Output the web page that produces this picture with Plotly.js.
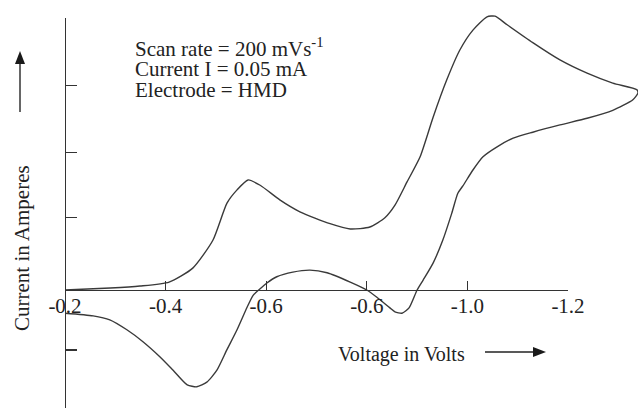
<!DOCTYPE html>
<html>
<head>
<meta charset="utf-8">
<script src="https://cdn.plot.ly/plotly-3.0.1.min.js"></script>
<style>html,body{margin:0;padding:0;background:#fff;}#chart{width:638px;height:408px;}</style>
</head>
<body>
<div id="chart"></div>
<script>
// Potential magnitude (V) and current (arbitrary units)
const forwardV = [0.200,0.290,0.349,0.407,0.454,0.494,0.522,0.542,0.564,0.588,0.627,0.667,0.727,0.767,0.806,0.836,0.856,0.880,0.906,0.932,0.959,0.985,1.011,1.039,1.055,1.079,1.130,1.184,1.238,1.289,1.337];
const forwardI = [0.00,0.03,0.06,0.12,0.33,0.75,1.31,1.51,1.66,1.58,1.36,1.18,1.00,0.92,0.95,1.09,1.28,1.63,2.01,2.61,3.17,3.62,3.92,4.12,4.13,4.00,3.73,3.47,3.27,3.12,3.02];
const reverseV = [1.339,1.329,1.289,1.238,1.184,1.130,1.091,1.059,1.031,1.011,0.991,0.981,0.969,0.951,0.932,0.912,0.900,0.884,0.870,0.856,0.846,0.820,0.800,0.767,0.721,0.687,0.653,0.621,0.602,0.588,0.574,0.562,0.542,0.522,0.502,0.482,0.462,0.443,0.415,0.389,0.355,0.323,0.289,0.256,0.200];
const reverseI = [2.97,2.87,2.71,2.59,2.49,2.38,2.29,2.16,2.01,1.81,1.57,1.46,1.16,0.75,0.41,0.15,0.00,-0.27,-0.35,-0.33,-0.27,-0.11,0.00,0.12,0.26,0.30,0.27,0.20,0.11,0.02,-0.08,-0.26,-0.60,-0.90,-1.21,-1.39,-1.46,-1.43,-1.21,-1.01,-0.78,-0.60,-0.45,-0.39,-0.35];
const xTickVals = [0.2,0.4,0.6,0.8,1.0,1.2];
const xTickText = ['-0.2','-0.4','-0.6','-0.6','-1.0','-1.2'];
const yTickVals = [4.09,3.08,2.08,1.09,-0.905];

const cvV = forwardV.concat(reverseV);
const cvI = forwardI.concat(reverseI);

// pixel -> paper helpers for layout placement
const L = 65, T = 10, W = 573, H = 398;
const fx = p => (p - L) / W;
const fy = p => (T + H - p) / H;
const yPerPx = 1 / 66.3;
const yAt = p => (290 - p) * yPerPx;

const serif = 'Liberation Serif, Times New Roman, serif';

const traces = [
  {x: cvV, y: cvI, type: 'scatter', mode: 'lines', xaxis: 'x', yaxis: 'y',
   line: {color: '#3a3a3a', width: 1.4, shape: 'spline', smoothing: 0.6},
   hoverinfo: 'skip', showlegend: false},
  {x: [], y: [], type: 'scatter', mode: 'lines', xaxis: 'x2', yaxis: 'y',
   hoverinfo: 'skip', showlegend: false},
  {x: [], y: [], type: 'scatter', mode: 'lines', xaxis: 'x', yaxis: 'y2',
   hoverinfo: 'skip', showlegend: false}
];

function tri(pts) {
  return 'M ' + pts.map(p => fx(p[0]) + ' ' + fy(p[1])).join(' L ') + ' Z';
}

const layout = {
  width: 638, height: 408,
  margin: {l: L, r: 0, t: T, b: 0, pad: 0},
  paper_bgcolor: '#ffffff', plot_bgcolor: 'rgba(0,0,0,0)',
  showlegend: false,
  font: {family: serif, color: '#222'},
  xaxis: {domain: [0, 1], range: [0.2, 0.2 + 573/503], visible: false, fixedrange: true},
  xaxis2: {domain: [0, fx(568)], range: [0.2, 1.2], anchor: 'free', position: fy(290),
           showline: true, linecolor: '#333', linewidth: 1.3,
           ticks: 'inside', ticklen: 9, tickwidth: 1.2, tickcolor: '#333',
           tickmode: 'array', tickvals: xTickVals, ticktext: xTickText, ticklabelstandoff: -4,
           tickfont: {family: serif, size: 21, color: '#222'},
           showgrid: false, zeroline: false, fixedrange: true},
  yaxis: {domain: [0, 1], range: [yAt(408), yAt(T)], anchor: 'x', visible: false,
          showgrid: false, zeroline: false, fixedrange: true},
  yaxis2: {domain: [0, fy(18)], range: [yAt(408), yAt(18)], anchor: 'free', position: 0,
          showline: true, linecolor: '#333', linewidth: 1.3,
          ticks: 'inside', ticklen: 11, tickwidth: 1.2, tickcolor: '#333',
          tickmode: 'array', tickvals: yTickVals, showticklabels: false,
          showgrid: false, zeroline: false, fixedrange: true},
  shapes: [
    {type: 'line', xref: 'paper', yref: 'paper', x0: fx(20), x1: fx(20), y0: fy(112), y1: fy(62),
     line: {color: '#666', width: 2}},
    {type: 'path', xref: 'paper', yref: 'paper', path: tri([[20, 51], [15, 64], [25, 64]]),
     fillcolor: '#1a1a1a', line: {width: 0}},
    {type: 'line', xref: 'paper', yref: 'paper', x0: fx(485), x1: fx(534), y0: fy(352), y1: fy(352),
     line: {color: '#222', width: 1.5}},
    {type: 'path', xref: 'paper', yref: 'paper', path: tri([[546, 352], [533, 347], [533, 357]]),
     fillcolor: '#1a1a1a', line: {width: 0}}
  ],
  annotations: [
    {xref: 'paper', yref: 'paper', x: fx(133), y: fy(48), xanchor: 'left', yanchor: 'middle',
     text: 'Scan rate = 200 mVs<sup>-1</sup>', showarrow: false, font: {family: serif, size: 21, color: '#222'}},
    {xref: 'paper', yref: 'paper', x: fx(133), y: fy(69), xanchor: 'left', yanchor: 'middle',
     text: 'Current I = 0.05 mA', showarrow: false, font: {family: serif, size: 21, color: '#222'}},
    {xref: 'paper', yref: 'paper', x: fx(133), y: fy(90), xanchor: 'left', yanchor: 'middle',
     text: 'Electrode = HMD', showarrow: false, font: {family: serif, size: 21, color: '#222'}},
    {xref: 'paper', yref: 'paper', x: fx(401), y: fy(354), xanchor: 'center', yanchor: 'middle',
     text: 'Voltage in Volts', showarrow: false, font: {family: serif, size: 20, color: '#222'}},
    {xref: 'paper', yref: 'paper', x: fx(22), y: fy(248), xanchor: 'center', yanchor: 'middle',
     text: 'Current in Amperes', textangle: -90, showarrow: false, font: {family: serif, size: 21, color: '#222'}}
  ]
};

Plotly.newPlot('chart', traces, layout, {displayModeBar: false, staticPlot: true});
</script>
</body>
</html>
